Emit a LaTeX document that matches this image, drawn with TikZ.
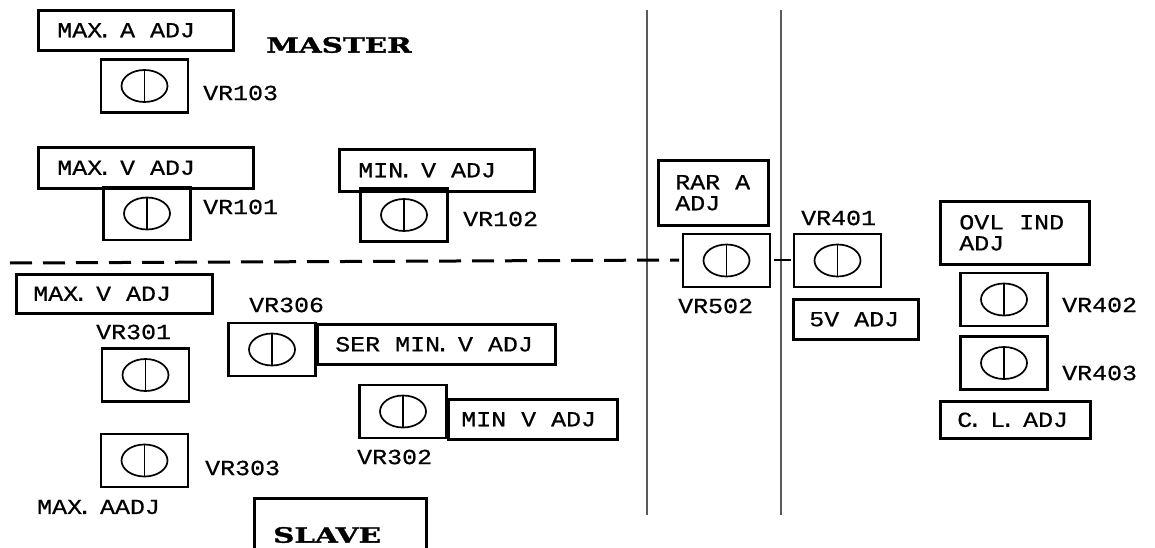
\documentclass[tikz,border=0pt]{standalone}
\usepackage{fontspec}
\newfontfamily\labelfont[FakeStretch=1.16, FakeBold=0.6]{Liberation Mono}
\newfontfamily\titlefont[FakeStretch=1.4, FakeBold=1.5]{DejaVu Serif}
\usetikzlibrary{positioning}
\definecolor{divgray}{RGB}{90,90,90}
% typewriter lettering: wide word space, tight period
\newcommand{\labelsetup}{\labelfont\fontsize{21.5}{21}\selectfont\fontdimen2\font=15pt\relax}
\newcommand{\pdot}{\kern-5pt.\kern-7pt}

\begin{document}
\begin{tikzpicture}[x=1pt, y=-1pt, font=\labelsetup,
  pot/.style={draw, line width=2.6pt, minimum width=87pt, minimum height=53pt, inner sep=0pt,
    path picture={
      \draw[line width=1.7pt] (path picture bounding box.center) ellipse (23pt and 16pt);
      \draw[line width=1.7pt] ([yshift=16pt]path picture bounding box.center) -- ([yshift=-16pt]path picture bounding box.center);
    }},
  adjbox/.style={draw, line width=2.6pt, anchor=north west, align=left, inner xsep=19pt, inner ysep=0pt,
    execute at begin node={\spaceskip=15pt\relax}},
  vrlabel/.style={anchor=west, inner sep=0pt},
  heading/.style={inner sep=0pt, font=\titlefont\bfseries\fontsize{21}{21}\selectfont}]
\frenchspacing
\useasboundingbox (0,0) rectangle (1155,548);

% Dividers
\coordinate (d1top) at (647,10);
\coordinate (d1bot) at (647,515);
\coordinate (d2top) at (781,10);
\coordinate (d2bot) at (781,515);
\draw[line width=2pt, divgray] (d1top) -- (d1bot);
\draw[line width=2pt, divgray] (d2top) -- (d2bot);

% Master / slave split
\coordinate (splitL) at (10,263);
\coordinate (splitR) at (679,260);
\coordinate (tickL) at (774,260);
\coordinate (tickR) at (791,260);
\draw[line width=3pt, dash pattern=on 22pt off 11pt] (splitL) -- (splitR);
\draw[line width=2pt] (tickL) -- (tickR);

% Master
\node[heading] (master) at (339,45) {MASTER};
\node[adjbox, minimum width=195pt, minimum height=40pt, text width=157pt] (maxa) at (37,9) {MAX\pdot\ A ADJ};
\node[pot] (vr103) at (144.5,86) {};
\node[vrlabel] (vr103l) at (203,93) {VR103};
\node[adjbox, minimum width=215pt, minimum height=41pt, text width=177pt] (maxv) at (37,146) {MAX\pdot\ V ADJ};
\node[pot] (vr101) at (147,213.5) {};
\node[vrlabel] (vr101l) at (203,207) {VR101};
\node[adjbox, minimum width=195pt, minimum height=42pt, text width=157pt] (minv) at (338,148) {MIN\pdot\ V ADJ};
\node[pot] (vr102) at (404,215) {};
\node[vrlabel] (vr102l) at (463,219) {VR102};

% Slave
\node[adjbox, minimum width=196pt, minimum height=39pt, text width=162pt, inner xsep=17pt] (maxv2) at (15,273) {MAX\pdot\ V ADJ};
\node[vrlabel] (vr301l) at (96,332) {VR301};
\node[pot] (vr301) at (145.5,375) {};
\node[vrlabel] (vr306l) at (249,305) {VR306};
\node[pot] (vr306) at (272,349.5) {};
\node[adjbox, minimum width=238pt, minimum height=40pt, text width=202pt, inner xsep=18pt] (sermin) at (316,323) {SER MIN\pdot\ V ADJ};
\node[pot] (vr302) at (403,411.5) {};
\node[adjbox, minimum width=169pt, minimum height=40pt, text width=143pt, inner xsep=13pt] (minv2) at (447,398) {MIN V ADJ};
\node[vrlabel] (vr302l) at (357,457) {VR302};
\node[pot] (vr303) at (144.5,460.5) {};
\node[vrlabel] (vr303l) at (205,468) {VR303};
\node[anchor=west, inner sep=0pt] (maxaadj) at (37,507) {MAX\pdot\ AADJ};
\node[draw, line width=2.6pt, anchor=north west, minimum width=172pt, minimum height=72pt, inner sep=0pt] (slavebox) at (253,497) {};
\node[heading, anchor=west] (slave) at (273,535) {SLAVE};

% Middle strip
\node[adjbox, minimum width=110pt, minimum height=65pt, text width=76pt, inner xsep=17pt] (rara) at (657,159) {\mbox{RAR A}\\ADJ};
\node[pot] (vr502) at (726.5,260.5) {};
\node[vrlabel] (vr502l) at (678,306) {VR502};

% Right side
\node[vrlabel] (vr401l) at (801,218) {VR401};
\node[pot] (vr401) at (837.5,260.5) {};
\node[adjbox, minimum width=125pt, minimum height=40pt, text width=93pt, inner xsep=16pt] (fivev) at (792,298) {5V ADJ};
\node[adjbox, minimum width=149pt, minimum height=63pt, text width=111pt] (ovl) at (939,200) {OVL IND\\ADJ};
\node[pot] (vr402) at (1004,299.5) {};
\node[vrlabel] (vr402l) at (1062,305) {VR402};
\node[pot] (vr403) at (1004,363) {};
\node[vrlabel] (vr403l) at (1062,373) {VR403};
\node[adjbox, minimum width=150pt, minimum height=37pt, text width=116pt, inner xsep=17pt] (cl) at (939,400) {C\pdot\ L\pdot\ ADJ};
\end{tikzpicture}
\end{document}
